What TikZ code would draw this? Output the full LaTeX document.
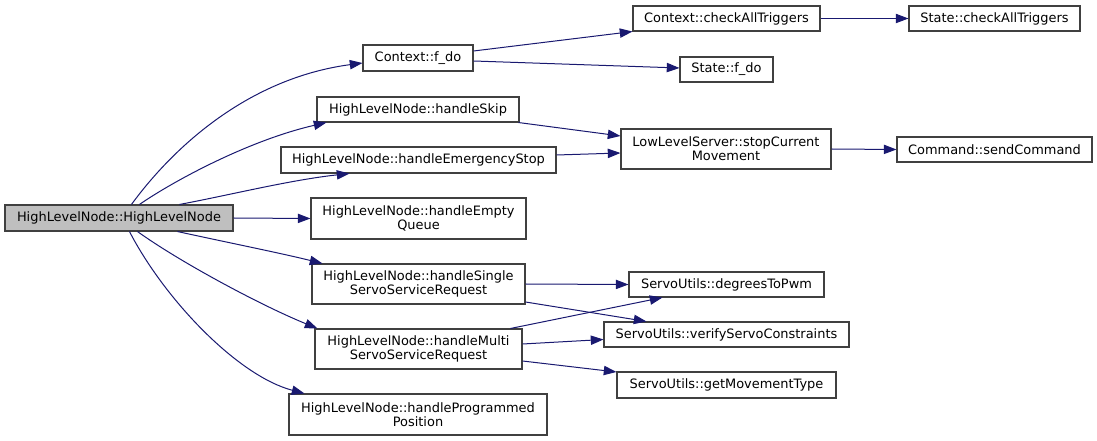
\documentclass[tikz,border=0pt]{standalone}
\usepackage{fontspec}
\setmainfont{DejaVu Sans}
\usetikzlibrary{calc,arrows.meta}
\definecolor{nodeborder}{HTML}{404040}
\definecolor{mainfill}{HTML}{BFBFBF}
\definecolor{edgecol}{HTML}{191970}
\tikzset{
  fbox/.style={draw=nodeborder, line width=0.8pt, fill=white, inner sep=0pt, align=center,
    font=\fontsize{9.7pt}{10.6pt}\selectfont},
  edgeline/.style={draw=edgecol, line width=0.75pt, -{Triangle[length=9.5pt,width=7pt]}},
}
\begin{document}
\begin{tikzpicture}[x=0.75pt,y=-0.75pt]
\useasboundingbox (0,0) rectangle (1097,441);
% nodes
\node[fbox, fill=mainfill, minimum width=171pt, minimum height=19.5pt] (main) at (119,218) {HighLevelNode::HighLevelNode};
\node[fbox, minimum width=82.5pt, minimum height=19.5pt] (fdo) at (418,58) {Context::f\_do};
\node[fbox, minimum width=140.25pt, minimum height=18.75pt] (cat) at (726.5,18.5) {Context::checkAllTriggers};
\node[fbox, minimum width=128.25pt, minimum height=18.75pt] (sat) at (994.5,18.5) {State::checkAllTriggers};
\node[fbox, minimum width=69.75pt, minimum height=18.75pt] (sfdo) at (726.5,69.5) {State::f\_do};
\node[fbox, minimum width=157.5pt, minimum height=30pt] (stop) at (726,149) {LowLevelServer::stopCurrent\\Movement};
\node[fbox, minimum width=146.25pt, minimum height=18.75pt] (send) at (994.5,149.5) {Command::sendCommand};
\node[fbox, minimum width=151.5pt, minimum height=18.75pt] (skip) at (418,109.5) {HighLevelNode::handleSkip};
\node[fbox, minimum width=206.25pt, minimum height=19.5pt] (emerg) at (418.5,160) {HighLevelNode::handleEmergencyStop};
\node[fbox, minimum width=161.25pt, minimum height=30.75pt] (empty) at (418.5,218.5) {HighLevelNode::handleEmpty\\Queue};
\node[fbox, minimum width=159.75pt, minimum height=30pt] (single) at (418.5,284) {HighLevelNode::handleSingle\\ServoServiceRequest};
\node[fbox, minimum width=155.25pt, minimum height=30pt] (multi) at (418.5,349) {HighLevelNode::handleMulti\\ServoServiceRequest};
\node[fbox, minimum width=193.5pt, minimum height=30.75pt] (prog) at (418,414.5) {HighLevelNode::handleProgrammed\\Position};
\node[fbox, minimum width=146.25pt, minimum height=18.75pt] (deg) at (726.5,284.5) {ServoUtils::degreesToPwm};
\node[fbox, minimum width=183.75pt, minimum height=18.75pt] (verify) at (726.5,334.5) {ServoUtils::verifyServoConstraints};
\node[fbox, minimum width=164.25pt, minimum height=19.5pt] (getmv) at (726.5,385) {ServoUtils::getMovementType};
% edges from main
\draw[edgeline] ($(main.north west)+(127,0)$) .. controls (175,145) and (250,78) .. ($(fdo.west)+(0,5)$);
\draw[edgeline] ($(main.north west)+(135,0)$) .. controls (175,180) and (250,140) .. ($(skip.south west)+(10,0)$);
\draw[edgeline] ($(main.north west)+(175,0)$) .. controls (230,195) and (290,180) .. ($(emerg.south west)+(69,0)$);
\draw[edgeline] (main.east) -- (empty.west);
\draw[edgeline] ($(main.south west)+(173,0)$) .. controls (230,243) and (280,253) .. ($(single.north west)+(11,0)$);
\draw[edgeline] ($(main.south west)+(133,0)$) .. controls (180,262) and (260,305) .. ($(multi.north west)+(3,0)$);
\draw[edgeline] ($(main.south west)+(125,0)$) .. controls (165,300) and (238,376) .. ($(prog.north west)+(16,0)$);
% other edges
\draw[edgeline] ($(fdo.east)+(0,-7)$) -- (cat.south west);
\draw[edgeline] ($(fdo.east)+(0,3)$) -- ($(sfdo.west)+(0,-1.5)$);
\draw[edgeline] (cat.east) -- (sat.west);
\draw[edgeline] ($(skip.south east)+(-1,0)$) -- ($(stop.west)+(0,-13)$);
\draw[edgeline] ($(emerg.east)+(0,-5)$) -- ($(stop.west)+(0,4)$);
\draw[edgeline] (stop.east) -- (send.west);
\draw[edgeline] (single.east) -- (deg.west);
\draw[edgeline] ($(single.east)+(0,18)$) -- ($(verify.north west)+(43,0)$);
\draw[edgeline] ($(multi.north east)+(-12,0)$) -- ($(deg.south west)+(34,0)$);
\draw[edgeline] ($(multi.east)+(0,-5)$) -- ($(verify.west)+(0,5)$);
\draw[edgeline] ($(multi.east)+(0,12)$) -- ($(getmv.west)+(0,-13)$);
\end{tikzpicture}
\end{document}
